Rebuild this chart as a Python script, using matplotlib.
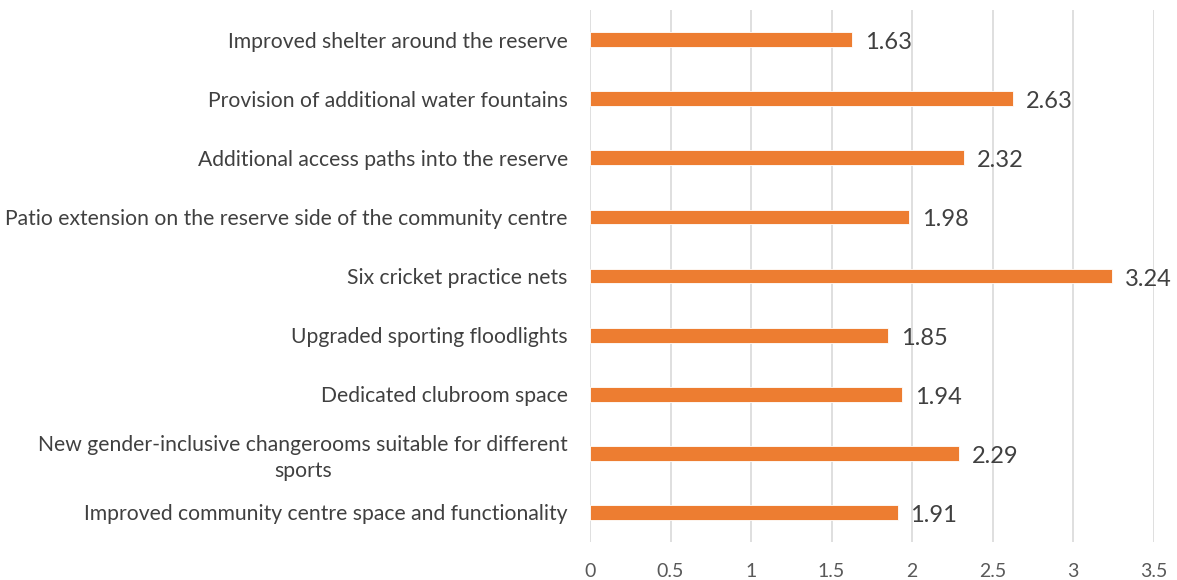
import numpy as np
import matplotlib.pyplot as plt
import matplotlib.transforms as mtransforms

# facility priorities, listed bottom to top as drawn
categories = [
    "Improved community centre space and functionality",
    "New gender-inclusive changerooms suitable for different\nsports",
    "Dedicated clubroom space",
    "Upgraded sporting floodlights",
    "Six cricket practice nets",
    "Patio extension on the reserve side of the community centre",
    "Additional access paths into the reserve",
    "Provision of additional water fountains",
    "Improved shelter around the reserve",
]
scores = [1.91, 2.29, 1.94, 1.85, 3.24, 1.98, 2.32, 2.63, 1.63]
xticks = [0, 0.5, 1, 1.5, 2, 2.5, 3, 3.5]

plt.rcParams['font.family'] = ['Lato', 'DejaVu Sans']

fig = plt.figure(figsize=(11.77, 5.8), dpi=100)
ax = fig.add_axes([590/1177, 1-542/580, (1153.5-590)/1177, 532/580])

ypos = np.arange(len(categories))
ax.barh(ypos, scores, height=0.25, color="#ED7D31", edgecolor="white", linewidth=0.6, zorder=3)
# value labels sit a touch below the bar centre
shift = mtransforms.offset_copy(ax.transData, fig=fig, x=0, y=-3, units="dots")
for y, v in zip(ypos, scores):
    ax.text(v + 0.08, y, f"{v:.2f}", va="center", ha="left", fontsize=17,
            color="#404040", transform=shift)

ax.set_xlim(0, 3.5)
ax.set_ylim(-0.5, len(categories) - 0.5)
ax.set_xticks(xticks)
ax.set_xticklabels([f"{t:g}" for t in xticks], fontsize=14, color="#595959")
ax.set_yticks(ypos)
ax.set_yticklabels(categories, fontsize=15.2, color="#404040")
for lbl in ax.get_yticklabels():
    lbl.set_multialignment("center")
    lbl.set_linespacing(1.35)
ax.tick_params(axis="both", length=0)
ax.tick_params(axis="x", pad=15)
ax.tick_params(axis="y", pad=16)
ax.grid(axis="x", color="#D9D9D9", linewidth=1.2, zorder=0)
for s in ax.spines.values():
    s.set_visible(False)

fig.savefig("out.png", dpi=100)
